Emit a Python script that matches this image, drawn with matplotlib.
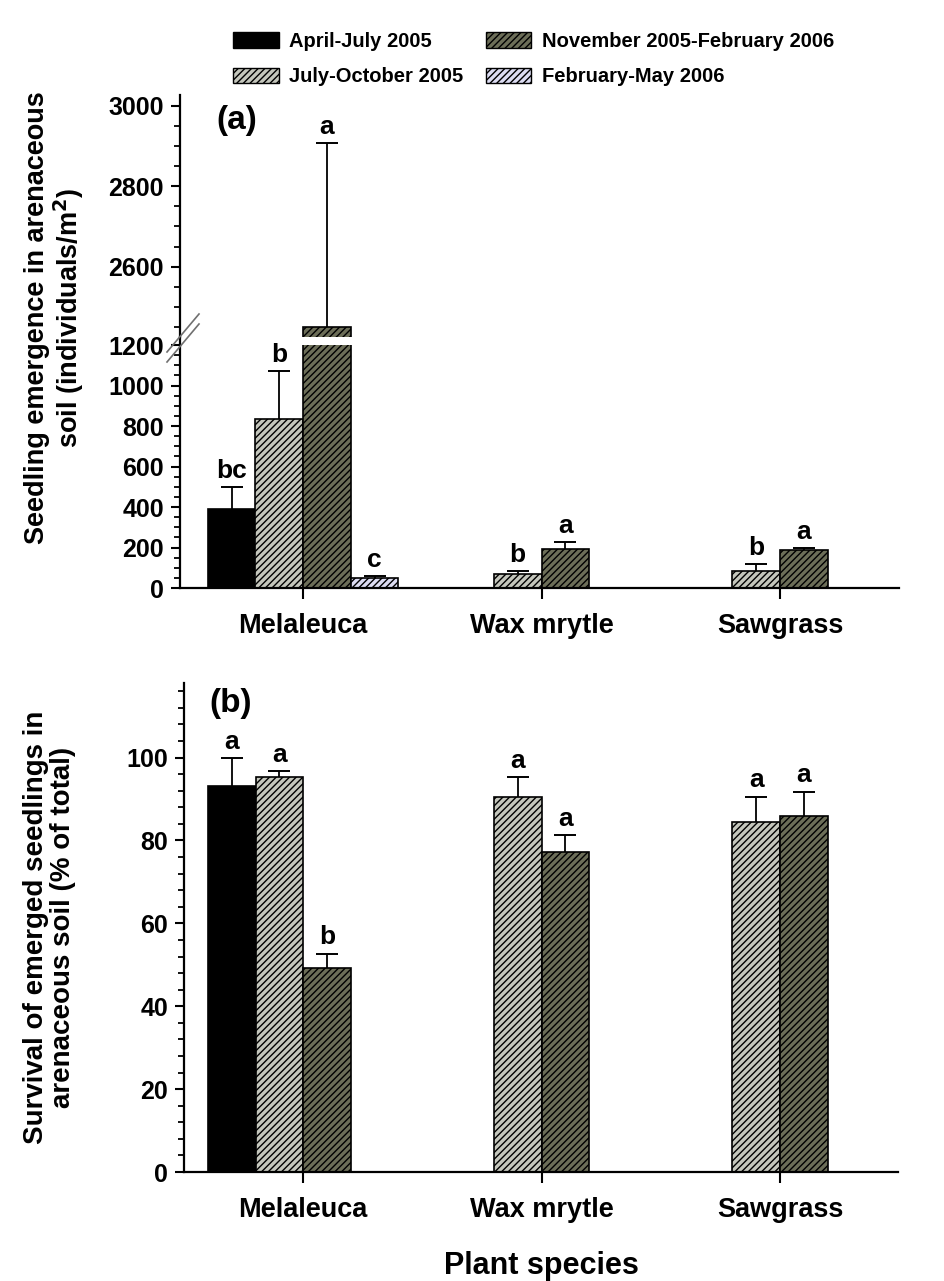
import numpy as np
import matplotlib
matplotlib.use("Agg")
import matplotlib.pyplot as plt
from matplotlib.lines import Line2D
from matplotlib.patches import Patch

plt.rcParams['font.family'] = ['Liberation Sans', 'DejaVu Sans']
plt.rcParams['font.weight'] = 'bold'
plt.rcParams['hatch.linewidth'] = 1.0

species = ["Melaleuca", "Wax mrytle", "Sawgrass"]
periods = ["April-July 2005", "July-October 2005",
           "November 2005-February 2006", "February-May 2006"]
fills = ["#000000", "#c4c6bc", "#6c6e58", "#dcdcf2"]
hatches = ["", "/////", "/////", "/////"]

# (a) seedling emergence, individuals/m2 (nan = not sampled)
emerg_apr = [390, np.nan, np.nan]
emerg_jul = [835, 69, 85]
emerg_nov = [2450, 194, 189]
emerg_feb = [48, np.nan, np.nan]
emerg_se_apr = [110, np.nan, np.nan]
emerg_se_jul = [237, 16, 33]
emerg_se_nov = [457, 33, 10]
emerg_se_feb = [11, np.nan, np.nan]
emerg_let_apr = ["bc", "", ""]
emerg_let_jul = ["b", "b", "b"]
emerg_let_nov = ["a", "a", "a"]
emerg_let_feb = ["c", "", ""]

# (b) survival, % of total
surv_apr = [93.1, np.nan, np.nan]
surv_jul = [95.2, 90.4, 84.4]
surv_nov = [49.3, 77.3, 85.9]
surv_se_apr = [6.8, np.nan, np.nan]
surv_se_jul = [1.5, 4.9, 6.2]
surv_se_nov = [3.4, 4.0, 5.9]
surv_let_apr = ["a", "", ""]
surv_let_jul = ["a", "a", "a"]
surv_let_nov = ["b", "a", "a"]

W, H = 944, 1281
fig = plt.figure(figsize=(W / 100, H / 100), dpi=100)

def fx(px):
    return px / W

def fy(py):
    return 1 - py / H

width = 0.2
offsets = [-1.5 * width, -0.5 * width, 0.5 * width, 1.5 * width]
xpos = np.arange(len(species))


def draw_group(ax, k, vals, ses, lets):
    vals = np.array(vals, dtype=float)
    ses = np.array(ses, dtype=float)
    ok = ~np.isnan(vals)
    x = xpos[ok] + offsets[k]
    ax.bar(x, vals[ok], width, color=fills[k], edgecolor="black",
           hatch=hatches[k], linewidth=1.2, zorder=2)
    top = vals[ok] + ses[ok]
    ax.vlines(x, vals[ok], top, color="black", lw=1.3, zorder=3)
    ax.plot(x, top, ls="none", marker="_", ms=16, mew=1.4, color="black", zorder=3)
    for xi, ti, li in zip(x, top, np.array(lets)[ok]):
        ax.annotate(li, (xi, ti), xytext=(0, 3), textcoords="offset points",
                    ha="center", va="bottom", fontsize=19, fontweight="bold")


def style(ax):
    for s in ["top", "right"]:
        ax.spines[s].set_visible(False)
    for s in ["left", "bottom"]:
        ax.spines[s].set_linewidth(1.6)
    ax.tick_params(axis="y", which="major", length=6.5, width=1.5, labelsize=18, pad=5)
    ax.tick_params(axis="y", which="minor", length=4, width=1.3)
    ax.tick_params(axis="x", length=8, width=1.5, labelsize=19.5, pad=10)


# ---- panel (a): broken axis ----
ax_lo = fig.add_axes([fx(180), fy(588), fx(899 - 180), (588 - 345) / H])
ax_hi = fig.add_axes([fx(180), fy(337), fx(899 - 180), (337 - 95) / H])

emerg = [(emerg_apr, emerg_se_apr, emerg_let_apr), (emerg_jul, emerg_se_jul, emerg_let_jul),
         (emerg_nov, emerg_se_nov, emerg_let_nov), (emerg_feb, emerg_se_feb, emerg_let_feb)]
for k, (v, s, l) in enumerate(emerg):
    v = np.array(v, dtype=float)
    lo_lets = [li if (not np.isnan(vi) and vi + si < 1200) else "" for vi, si, li in zip(v, s, l)]
    hi_lets = [li if (not np.isnan(vi) and vi + si >= 1200) else "" for vi, si, li in zip(v, s, l)]
    draw_group(ax_lo, k, v, s, lo_lets)
    draw_group(ax_hi, k, v, s, hi_lets)

ax_lo.set_ylim(0, 1200)
ax_hi.set_ylim(2425, 3027)
for ax in (ax_lo, ax_hi):
    ax.set_xlim(-0.516, 2.499)
    style(ax)
ax_lo.set_yticks(np.arange(0, 1201, 200))
ax_lo.set_yticks(np.arange(0, 1201, 50), minor=True)
ax_hi.set_yticks([2600, 2800, 3000])
ax_hi.set_yticks(np.arange(2450, 3001, 50), minor=True)
ax_hi.spines["bottom"].set_visible(False)
ax_hi.set_xticks([])
ax_lo.set_xticks(xpos)
ax_lo.set_xticklabels(species)
ax_hi.text(0.05, 0.96, "(a)", transform=ax_hi.transAxes, fontsize=24,
           fontweight="bold", ha="left", va="top")

# continuous spine across the break and the // marks
fig.add_artist(Line2D([fx(180), fx(180)], [fy(345), fy(337)], color="black", lw=1.6))
for dy in (-5, 5):
    fig.add_artist(Line2D([fx(167), fx(199)], [fy(357 + dy), fy(319 + dy)],
                          color="#707070", lw=1.2))

fig.text(fx(55), fy(318), "Seedling emergence in arenaceous\nsoil (individuals/m$^\\mathbf{2}$)",
         rotation=90, ha="center", va="center", fontsize=19.5, fontweight="bold",
         multialignment="center", linespacing=1.05)

# ---- panel (b) ----
ax_b = fig.add_axes([fx(184), fy(1172), fx(898 - 184), (1172 - 683) / H])
surv = [(surv_apr, surv_se_apr, surv_let_apr), (surv_jul, surv_se_jul, surv_let_jul),
        (surv_nov, surv_se_nov, surv_let_nov)]
for k, (v, s, l) in enumerate(surv):
    draw_group(ax_b, k, v, s, l)
ax_b.set_xlim(-0.5, 2.495)
ax_b.set_ylim(0, 118)
style(ax_b)
ax_b.set_yticks(np.arange(0, 101, 20))
ax_b.set_yticks(np.arange(0, 117, 4), minor=True)
ax_b.set_xticks(xpos)
ax_b.set_xticklabels(species)
ax_b.text(0.035, 0.99, "(b)", transform=ax_b.transAxes, fontsize=24,
          fontweight="bold", ha="left", va="top")
ax_b.set_xlabel("Plant species", fontsize=22, fontweight="bold", labelpad=20)

fig.text(fx(50), fy(927), "Survival of emerged seedlings in\narenaceous soil (% of total)",
         rotation=90, ha="center", va="center", fontsize=20, fontweight="bold",
         multialignment="center", linespacing=1.05)

# ---- legend ----
handles = [Patch(facecolor=fills[k], edgecolor="black", hatch=hatches[k], linewidth=1.0)
           for k in range(4)]
leg = fig.legend(handles, periods, ncol=2, loc="upper left",
                 bbox_to_anchor=(fx(215), fy(14)), frameon=False,
                 prop={"size": 14.5, "weight": "bold"}, handlelength=2.28,
                 handleheight=0.8, handletextpad=0.5, columnspacing=1.1,
                 labelspacing=0.8)

fig.savefig("out.png", dpi=100)
